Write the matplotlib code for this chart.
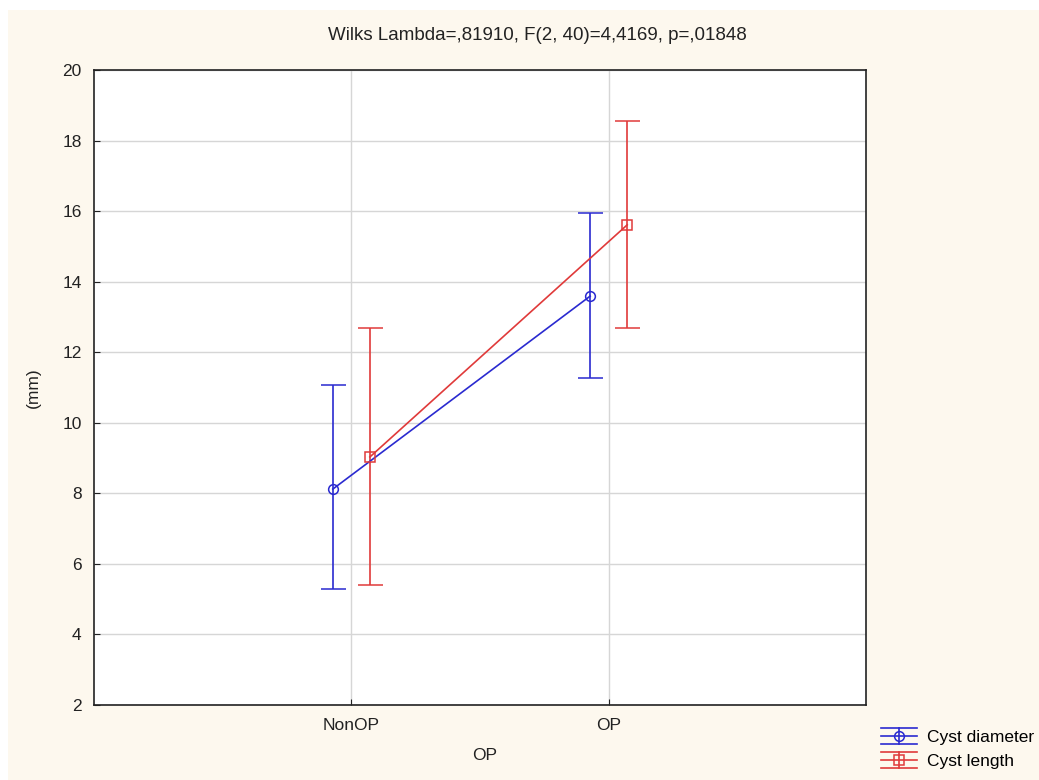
import numpy as np
import matplotlib.pyplot as plt
from matplotlib.patches import Rectangle
from matplotlib.lines import Line2D
from matplotlib.legend_handler import HandlerBase

plt.rcParams['font.family'] = ['Liberation Sans', 'DejaVu Sans']

# data
groups = ["NonOP", "OP"]
diameter_mean = [8.12, 13.59]
diameter_low = [5.29, 11.27]
diameter_high = [11.07, 15.95]
length_mean = [9.03, 15.61]
length_low = [5.40, 12.69]
length_high = [12.69, 18.55]

title = "Wilks Lambda=,81910, F(2, 40)=4,4169, p=,01848"

blue = "#2a2ad0"
red = "#e03a3a"
txt = "#222222"


class CapHandle(HandlerBase):
    # legend symbol: caps as long as the line, like the original software draws
    def __init__(self, color, marker):
        super().__init__()
        self.color = color
        self.marker = marker

    def create_artists(self, legend, orig, xd, yd, w, h, fs, trans):
        cy = yd + h / 2
        dy = h * 0.66
        arts = []
        for y in (cy - dy, cy, cy + dy):
            arts.append(Line2D([xd, xd + w], [y, y], color=self.color, lw=1.2))
        arts.append(Line2D([xd + w / 2] * 2, [cy - dy, cy + dy], color=self.color, lw=1.2))
        arts.append(Line2D([xd + w / 2], [cy], marker=self.marker, ms=7, mfc="none",
                           mec=self.color, mew=1.1, ls="none"))
        for a in arts:
            a.set_transform(trans)
        return arts


fig = plt.figure(figsize=(10.39, 7.8), dpi=100, facecolor="white")
# cream panel behind the chart
fig.patches.append(Rectangle((8 / 1039, 0), 1, 770 / 780, transform=fig.transFigure,
                             facecolor="#fdf8ee", edgecolor="none", zorder=-10))

ax = fig.add_axes([94 / 1039, 75 / 780, 772 / 1039, 635 / 780])
ax.set_facecolor("white")

x = np.arange(1, len(groups) + 1)
shift = 0.072

d_mean = np.array(diameter_mean)
l_mean = np.array(length_mean)
d_err = [d_mean - np.array(diameter_low), np.array(diameter_high) - d_mean]
l_err = [l_mean - np.array(length_low), np.array(length_high) - l_mean]

eb1 = ax.errorbar(x - shift, d_mean, yerr=d_err, color=blue, marker="o", ms=7,
                  mfc="none", mew=1.1, lw=1.2, capsize=9, capthick=1.2, zorder=3)
eb2 = ax.errorbar(x + shift, l_mean, yerr=l_err, color=red, marker="s", ms=7,
                  mfc="none", mew=1.1, lw=1.2, capsize=9, capthick=1.2, zorder=3)

ax.set_xlim(0, 3)
ax.set_ylim(2, 20)
ax.set_xticks(x)
ax.set_xticklabels(groups)
ax.set_yticks(np.arange(2, 21, 2))
ax.grid(True, color="#d6d6d6", lw=1)
ax.set_axisbelow(True)
ax.tick_params(direction="in", length=4, labelsize=12.5, colors=txt, pad=9)
for s in ax.spines.values():
    s.set_color(txt)
    s.set_linewidth(1.2)

ax.set_xlabel("OP", fontsize=12.5, color=txt, va="center")
ax.xaxis.set_label_coords((485 - 94) / 772, (705 - 755) / 635)
ax.set_ylabel("(mm)", fontsize=12.5, color=txt, va="center")
ax.yaxis.set_label_coords((33 - 94) / 772, 0.5)
fig.text(537 / 1039, 1 - 35 / 780, title, ha="center", va="center",
         fontsize=13.5, color=txt)

ax.legend([eb1, eb2], ["Cyst diameter", "Cyst length"],
          handler_map={eb1: CapHandle(blue, "o"), eb2: CapHandle(red, "s")},
          loc="upper left", bbox_to_anchor=(881 / 1039, 50 / 780),
          bbox_transform=fig.transFigure, frameon=False, fontsize=12.5,
          handlelength=2.05, labelspacing=0.5, handletextpad=0.6,
          borderaxespad=0, borderpad=0)

plt.savefig("out.png", dpi=100, facecolor=fig.get_facecolor())
